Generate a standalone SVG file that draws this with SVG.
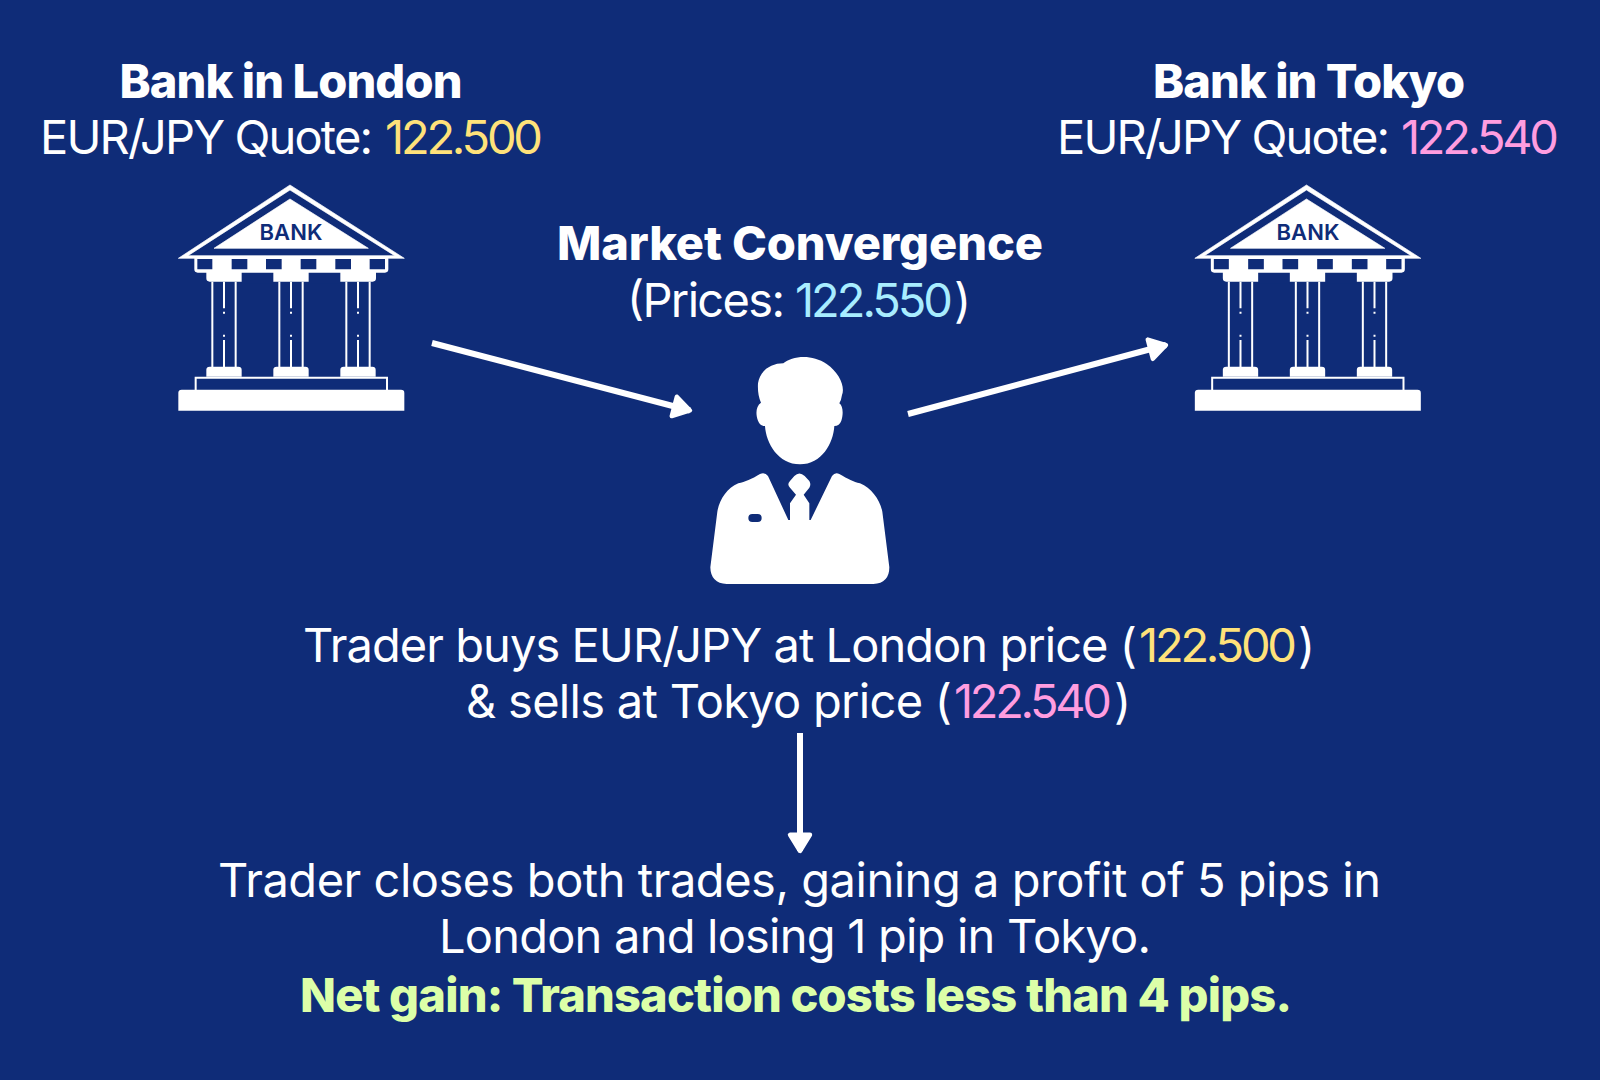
<svg xmlns="http://www.w3.org/2000/svg" xmlns:xlink="http://www.w3.org/1999/xlink" width="1600" height="1080" viewBox="0 0 1600 1080">
<style>
text{font-family:Inter,"Noto Sans","Liberation Sans",sans-serif;font-size:47px;fill:#fff;text-anchor:middle}
.s{text-anchor:start}
.b{font-weight:800}
.y{fill:#ffe27a}.p{fill:#ff9de0}.c{fill:#a8edff}.g{fill:#dcffa8}
.w{fill:#fff}.n{fill:#0f2c78}
.l{fill:none;stroke:#fff;stroke-width:6}
.k{font-size:22px;font-weight:600;fill:#0f2c78}
.ar{fill:none;stroke:#fff;stroke-width:6}
</style>
<defs>
<marker id="ah" markerUnits="userSpaceOnUse" markerWidth="30" markerHeight="30" refX="18" refY="12" orient="auto" viewBox="0 0 24 24">
<path d="M5 4L18 12L5 20Z" fill="#fff" stroke="#fff" stroke-width="3.5" stroke-linejoin="round"/>
</marker>
<g id="bank-icon">
<path class="w" d="M390 45L733 265H55Z M390 60L84 257H704Z" fill-rule="evenodd" stroke="#fff" stroke-width="2" stroke-linejoin="round"/>
<path class="w" d="M390 87L625 235H162Z" stroke="#fff" stroke-width="2" stroke-linejoin="round"/>
<path class="w" d="M103 262H685V298Q685 308 675 308H648V325Q648 335 638 335H149Q139 335 139 325V308H113Q103 308 103 298Z"/>
<path class="n" d="M245 308H340V340H245ZM446 308H541V340H446Z"/>
<path class="n" d="M112 267h45v31h-45zM215 267h47v31h-47zM318 267h47v31h-47zM422 267h47v31h-47zM526 267h47v31h-47zM629 267h46v31h-46z"/>
<g id="col">
<path class="w" d="M154 335h6v256h-6zM224 335h6v256h-6zM189 335h6v80h-6zM189 425h6v6h-6zM189 494h6v6h-6zM189 510h6v81h-6z"/>
<path class="w" d="M149 590H235Q245 590 245 600V620H139V600Q139 590 149 590Z"/>
</g>
<use xlink:href="#col" href="#col" x="201"/>
<use xlink:href="#col" href="#col" x="402"/>
<path class="l" d="M107 660V623H681V660"/>
<path class="w" d="M65 659H723Q733 659 733 669V722H55V669Q55 659 65 659Z"/>
</g>
</defs>
<rect width="1600" height="1080" fill="#0f2c78"/>
<g id="connectors">
<path class="ar" d="M432 343L690 410.5" marker-end="url(#ah)"/>
<path class="ar" d="M908 414L1166 345" marker-end="url(#ah)"/>
<path class="ar" d="M800 733V851" marker-end="url(#ah)"/>
</g>
<g id="bank-london">
<text class="b" x="291" y="98" textLength="343">Bank in London</text>
<text class="s" y="154"><tspan x="40" textLength="333">EUR/JPY Quote:</tspan> <tspan class="y" x="385" textLength="158">122.500</tspan></text>
<g transform="translate(160 170) scale(.33333)"><use xlink:href="#bank-icon" href="#bank-icon"/></g>
<text class="k" x="291" y="240" textLength="63">BANK</text>
</g>
<g id="bank-tokyo">
<text class="b" x="1309" y="98" textLength="312">Bank in Tokyo</text>
<text class="s" y="154"><tspan x="1057" textLength="333">EUR/JPY Quote:</tspan> <tspan class="p" x="1401" textLength="158">122.540</tspan></text>
<g transform="translate(1176.5 170) scale(.33333)"><use xlink:href="#bank-icon" href="#bank-icon"/></g>
<text class="k" x="1308" y="240" textLength="63">BANK</text>
</g>
<g id="trader">
<text class="b" x="800" y="260" textLength="486">Market Convergence</text>
<text class="s" y="317"><tspan x="627" textLength="158">(Prices:</tspan> <tspan class="c" x="795" textLength="158">122.550</tspan><tspan x="954" textLength="15">)</tspan></text>
<g transform="translate(680 340) scale(.33333)">
<path class="w" d="M310 70C335 48 395 40 440 72C478 98 496 140 486 165Q484 180 478 190C490 198 490 225 484 242Q478 258 463 258C460 310 425 373 360 373C295 373 258 310 255 258Q240 258 234 242C226 222 228 198 243 188Q232 165 234 130C240 90 275 70 310 70Z"/>
<path class="w" d="M325 540L264 408Q255 396 240 402C215 418 195 425 175 430C140 445 118 480 112 515L91 682Q92 730 140 732H580Q628 730 628 682L607 515C600 480 575 445 540 430C520 425 505 418 478 402Q465 396 456 408L392 540Z"/>
<path class="w" d="M343 408Q358 393 374 408L388 423Q394 433 388 443L371 464L388 490V545H330V490L348 464L330 443Q320 433 330 423Z"/>
<path class="n" d="M217 522H233A12 12 0 0 1 233 546H217A12 12 0 0 1 217 522Z"/>
</g>
</g>
<g id="step-buy">
<text class="s" y="662"><tspan x="303" textLength="834">Trader buys EUR/JPY at London price (</tspan><tspan class="y" x="1139" textLength="158">122.500</tspan><tspan x="1298" textLength="16">)</tspan></text>
<text class="s" y="718"><tspan x="466" textLength="486">&amp; sells at Tokyo price (</tspan><tspan class="p" x="954" textLength="158">122.540</tspan><tspan x="1114" textLength="16">)</tspan></text>
</g>
<g id="step-close">
<text x="799.5" y="897" textLength="1163">Trader closes both trades, gaining a profit of 5 pips in</text>
<text x="795" y="953" textLength="712">London and losing 1 pip in Tokyo.</text>
<text class="b g" x="796" y="1012" textLength="992">Net gain: Transaction costs less than 4 pips.</text>
</g>
</svg>
